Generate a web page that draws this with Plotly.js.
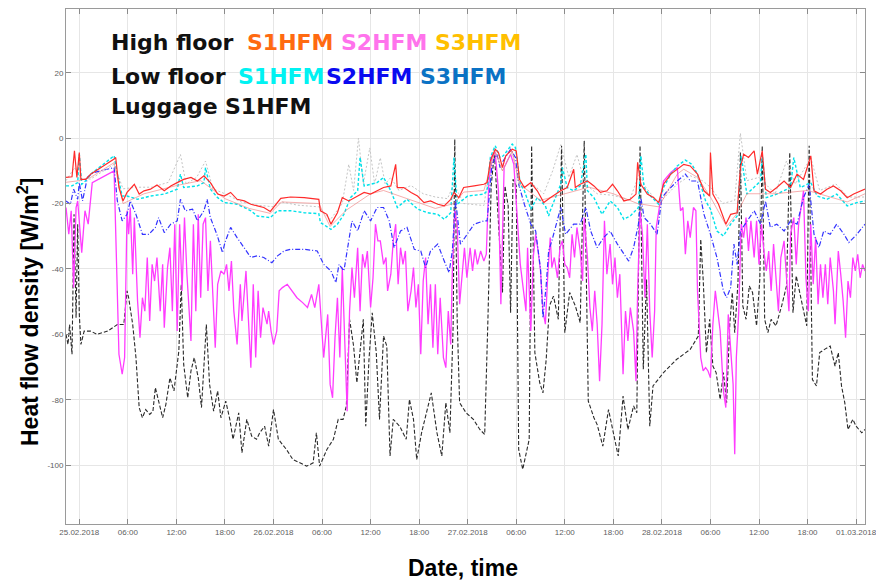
<!DOCTYPE html>
<html>
<head>
<meta charset="utf-8">
<script src="https://cdn.plot.ly/plotly-3.0.1.min.js"></script>
<style>
  html, body { margin: 0; padding: 0; background: #ffffff; }
  #chart { width: 876px; height: 581px; }
</style>
</head>
<body>
<div id="chart"></div>
<script>
// Time of each reading in hours after 25.02.2018 00:00, value in W/m2.

// High floor S1HFM
const hHiS1 = [-1.64,-0.9,-0.6,-0.3,0,0.2,0.8,1.4,4.3,4.5,4.9,5.4,5.9,6.8,7.4,8,8.8,9.6,10.5,11.3,12.1,12.9,13.8,14.6,15.4,16.2,17.1,17.9,
  18.7,19.5,20.4,21.2,22,22.8,23.6,24,24.9,26.1,27.8,29.6,29.8,30.6,31.1,31.9,32.5,33.3,34.4,35.2,36,36.8,37.6,
  38.5,39.1,39.3,40.1,41,41.8,42.6,43.4,44.3,45.1,45.9,46.3,46.9,47.5,48.8,50,50.4,50.8,51.4,51.8,52.3,52.7,53.5,54,54.4,55,55.8,56.6,57.4,
  58.2,59.5,60.3,61.1,61.3,61.9,62.8,63.6,64.4,65.2,65.9,66.5,67.3,68.1,68.8,69,69.4,70.2,71,71.6,72.2,73.1,73.9,74.7,75.5,76.4,77.2,
  77.9,78,78.3,79,79.9,80.5,81.3,81.7,82.1,82.7,83.4,83.8,84.4,84.8,85.4,86.2,87.1,87.9,88.7,89.5,90.4,90.8,91.6,92.4,93.2,94.1,94.9,95.7,97.1];
const vHiS1 = [-12,-11.8,-3.9,-12,-4.4,-12.6,-12.6,-11,-6.4,-5.9,-15.1,-19.2,-16.6,-14.1,-17.1,-16.1,-15.6,-14.3,-16.1,-14.6,-13.6,-12.6,-12,-13.1,-11.5,-13.6,-17.1,-17.7,
  -16.6,-18.7,-19.2,-20.2,-20.7,-21.2,-22.4,-21.2,-18.4,-18,-18.2,-18.7,-22.2,-23.3,-26.3,-22.8,-18.2,-19.2,-17.7,-16.6,-17.1,-16.1,-15.1,
  -14.6,-8,-15.1,-15.1,-16.6,-17.7,-19.7,-19.2,-20.2,-20.7,-18.7,-16.6,-18.2,-15.1,-14.6,-14.1,-13.6,-6.9,-3.4,-4.4,-9,-5.4,-3.4,-3.9,-12.6,-15.1,-13.6,-16.1,-19.7,
  -18.2,-16.1,-15.1,-9.5,-15.1,-14.1,-13.1,-14.6,-16.6,-16.1,-14.1,-16.1,-19.2,-18.7,-17.1,-7.4,-14.1,-17.1,-18.2,-19.7,-14.1,-11,-9.5,-8,-8.5,-11,-16.1,
  -17.7,-4.4,-17.1,-20.2,-26.3,-23.3,-22.8,-9,-4.9,-5.9,-3.9,-11,-3.9,-15.6,-16.6,-15.1,-13.1,-15.1,-11,-12.6,-5.4,-16.1,-17.1,-15.6,-14.6,-16.1,-18.2,-17.1,-15.6];

// High floor S2HFM
const hHiS2 = [-1.64,-1.3,-1,-0.7,-0.4,-0.2,0.3,0.7,1.1,1.6,4.3,4.6,4.9,5.3,5.6,5.9,6.1,6.3,6.6,6.8,
  7.2,7.5,7.8,8.1,8.4,8.7,9,9.3,9.6,10,10.3,10.5,10.9,11.2,11.5,11.8,12.1,12.4,12.7,13,
  13.3,13.8,14.1,14.4,14.7,15,15.3,15.6,15.9,16.2,16.6,16.8,17.1,17.5,17.9,
  18.2,18.5,18.8,19.1,19.5,19.9,20.1,20.6,20.9,21.2,21.5,21.8,22.1,22.4,22.7,23.2,23.4,23.7,24,24.4,
  24.7,25.1,25.7,26.3,26.9,27.6,28.2,28.7,29.1,29.6,29.9,30.2,30.7,31,31.3,31.6,31.9,32.2,32.5,32.8,
  33.1,33.4,33.7,34,34.4,34.7,35,35.3,35.6,36,36.3,36.6,36.9,37.2,37.6,
  37.9,38.1,38.5,38.8,39.1,39.4,39.7,40,40.3,40.6,41,41.3,41.6,41.9,42.2,42.5,42.8,43.1,43.4,43.7,
  44,44.3,44.6,45,45.3,45.6,45.9,46.1,46.4,46.7,47,47.3,47.6,47.9,48.3,48.6,48.9,49.2,49.6,50,
  50.3,50.6,51,51.4,51.8,52.1,52.5,52.9,53.3,53.7,54.1,54.5,54.8,55.2,55.4,55.8,56.1,56.4,56.7,57,57.3,57.6,
  57.9,58.2,58.4,58.7,59.1,59.4,59.7,60,60.3,60.6,60.9,61.2,61.5,61.9,62.2,62.4,62.8,63.1,63.4,63.7,
  64,64.3,64.6,64.9,65.2,65.6,65.9,66.2,66.5,66.8,67.2,67.5,67.8,68.1,68.5,68.8,69,69.3,69.6,69.9,
  70.2,70.5,70.8,71.1,71.3,71.6,71.9,72.2,73.1,73.9,74.3,74.6,74.9,75.2,75.5,75.9,76.2,76.4,76.8,77.1,
  77.4,77.7,78,78.3,78.6,78.9,79.2,79.6,79.9,80.2,80.5,80.8,81,81.2,81.5,81.8,82.1,82.4,82.7,83,
  83.4,83.7,84,84.3,84.6,84.9,85.2,85.5,85.8,86.1,86.4,86.7,87.1,87.4,87.7,87.9,88.3,88.6,88.9,89.2,
  89.5,89.8,90.1,90.4,90.7,91,91.3,91.6,91.9,92.2,92.5,92.8,93.2,93.4,93.8,94.1,94.4,94.7,95,95.3,
  95.6,95.9,96.2,96.5,96.8,97.1];
const vHiS2 = [-21.2,-29.4,-22.2,-45.7,-21.2,-19.2,-35,-22.2,-26.3,-13.6,-10,-36.5,-66.1,-72.2,-67.1,-22.2,-29.4,-21.2,-41.6,-24.3,
  -49.8,-61,-48.8,-52.9,-36.5,-55.9,-38.6,-43.7,-36.5,-52.9,-38.6,-58,-39.6,-33.5,-52.9,-26.3,-59,-26.3,-46.7,-24.3,
  -41.6,-62,-26.3,-52.9,-23.3,-48.8,-26.3,-24.3,-46.7,-31.4,-52.9,-64.1,-44.7,-40.6,-41.6,
  -38.6,-46.7,-37.6,-52.9,-63.1,-44.7,-55.9,-40.6,-56.9,-70.2,-44.7,-67.1,-46.7,-61,-51.8,-56.9,-52.9,-59,-63.1,-59,
  -46.7,-45.7,-44.7,-46.7,-48.8,-50.3,-51.8,-47.8,-51.8,-44.7,-55.9,-67.1,-53.9,-75.3,-79.4,-61,-48.8,-67.1,-39.6,-62,
  -83.5,-52.9,-39.6,-48.8,-33.5,-52.9,-35.5,-39.6,-34.5,-51.8,-42.7,-26.3,-31.4,-31.4,-38.6,
  -36.5,-46.7,-41.6,-31.4,-26.3,-44.7,-33.5,-38.6,-34.5,-52.9,-46.7,-39.6,-51.8,-44.7,-66.1,-43.7,-36.5,-56.9,-44.7,-64.1,
  -44.7,-66.1,-48.8,-67.1,-70.2,-52.9,-63.1,-40.6,-22.2,-26.3,-50.8,-40.6,-33.5,-42.7,-33.5,-40.6,-34,-38.6,-34.5,-37.6,
  -35.5,-14.1,-5.4,-4.4,-16.1,-50.8,-9,-6.9,-4.9,-8,-23.3,-38.6,-44.7,-52.9,-33.5,-59,-36.5,-29.4,-34.5,-40.6,-52.9,-56.9,
  -41.6,-30.4,-39.6,-36.5,-42.7,-33.5,-31.4,-38.6,-39.6,-42.7,-29.4,-36.5,-27.3,-34.5,-43.7,-24.3,-36.5,-51.8,-59,-46.7,
  -56.9,-74.3,-56.9,-25.3,-41.6,-32.4,-44.7,-36.5,-48.8,-41.6,-72.2,-52.9,-62,-51.8,-59,-74.3,-46.7,-22.2,-29.4,-48.8,
  -26.3,-52.9,-67.1,-52.9,-27.3,-22.2,-17.1,-13.1,-10.5,-9,-22.2,-21.2,-35.5,-25.3,-30.4,-21.2,-22.2,-46.7,-67.1,-71.2,
  -70.2,-71.2,-73.3,-56.9,-46.7,-52.9,-59,-77.3,-82.4,-53.9,-65.1,-75.3,-96.7,-67.1,-52.9,-26.3,-30.4,-24.3,-34.5,-25.3,
  -36.5,-25.3,-38.6,-26.3,-34.5,-40.6,-34.5,-46.7,-32.4,-41.6,-52.9,-36.5,-31.4,-42.7,-52.9,-29.4,-24.3,-38.6,-26.3,-21.2,
  -16.1,-42.7,-52.9,-26.3,-44.7,-30.4,-50.8,-38.6,-48.8,-38.6,-50.8,-36.5,-46.7,-56.9,-34.5,-41.6,-49.8,-61,-43.7,-48.8,
  -36.5,-40.6,-35.5,-42.7,-38.6,-40.6];

// High floor S3HFM
const hHiS3 = [-1.64,0,1.4,4.3,5.4,8,12,15,18,21,23.6,25,29.6,31,33,36,37.6,40,44,46.3,
  47.5,50,51.4,52.3,53.5,54.4,57,60,63,66,69,71.6,73.9,74.7,76.4,78,80,81.3,82.5,86,90,94.9,97.1];
const vHiS3 = [-13.5,-13,-12,-7.5,-20,-17,-14.5,-13,-18.5,-21.5,-23,-19.5,-20,-27,-22,-17,-16,-18,-21.5,-20,
  -16.5,-16,-4,-10,-4,-14,-19,-17,-15,-17,-20,-21,-11,-9.5,-12,-18,-27,-23,-17,-17,-16,-19.5,-17];

// Low floor S1HFM
const hLoS1 = [-1.64,-0.9,-0.2,0,0.3,0.6,1.4,4.3,4.7,5.3,5.9,7.2,8.8,10.5,12.1,12.5,12.9,14.6,15.4,15.6,16.2,17.1,17.9,
  19.5,21.2,22,23.6,24.5,26.1,27.8,29.6,29.8,31.1,31.9,32.7,33.5,34.4,34.7,35.2,36.8,37.6,
  38.5,39.3,40.5,41.8,43,44.3,45.1,45.9,46.3,46.7,48,50,50.4,50.8,51.4,52,52.4,53.5,53.9,54.5,55,55.8,56.6,57.6,
  58,58.2,59.5,59.7,60.3,61.1,61.9,62.6,62.8,63.6,64.6,65.6,66.5,67.3,68.1,69.1,69.4,69.8,70.6,71.6,72.2,73.1,73.9,74.9,75.7,76.4,77.4,
  78,78.8,79.6,80.5,81.3,81.8,82.5,83.4,84.2,84.4,84.9,86.2,87.9,88.3,89.1,90.4,91.2,92.4,93.6,94.9,96.1,97.1];
const vLoS1 = [-14.6,-14.6,-13.6,-4.9,-14.1,-13.6,-11,-5.4,-11,-17.7,-17.7,-18.7,-17.7,-17.1,-15.6,-11,-15.1,-14.6,-13.6,-9,-15.6,-18.2,-19.7,
  -20.2,-22.2,-23.8,-24.3,-22.2,-22.2,-22.8,-23.1,-25.8,-27.9,-26.3,-23.3,-18.2,-16.1,-5.9,-14.6,-13.6,-12,
  -16.1,-21.2,-18.7,-21.7,-22.8,-23.3,-24.8,-22.8,-5.9,-20.2,-17.7,-17.1,-16.1,-5.9,-2.3,-5.9,-5.4,-1.8,-2.9,-14.1,-16.1,-21.7,-18.2,-20.7,
  -23.8,-22.2,-14.1,-9,-15.1,-16.1,-14.6,-4.9,-16.1,-18.2,-23.3,-19.2,-21.2,-24.8,-23.8,-21.2,-5.4,-15.1,-17.7,-20.2,-15.1,-11,-8.5,-6.7,-8,-11,-19.2,
  -21.7,-28.4,-29.9,-26.3,-23.8,-5.4,-17.1,-15.1,-13.1,-4.9,-18.2,-17.1,-15.1,-5.9,-15.1,-13.6,-17.7,-18.7,-17.1,-20.7,-19.7,-19.2];

// Low floor S2HFM
const hLoS2 = [-1.64,-1.1,-0.7,-0.2,0,0.4,1,1.8,4.3,4.7,5.3,5.9,6.3,7,7.8,8.6,9.4,9.8,10.5,11.3,12.1,12.5,13.1,14,14.6,15.4,15.8,16.2,17,17.7,
  18,18.7,19.5,20.4,21.2,22,22.8,23.8,24.5,25.3,26.1,27.8,29.4,30.2,31.1,31.7,32.1,32.7,33.3,33.7,34.4,35.2,36,36.8,37.6,
  38.3,38.9,39.7,40.5,41.4,42.2,42.8,43.4,44.3,45.1,45.7,46.1,46.5,47.1,47.9,48.8,50,50.4,51,51.6,52,52.4,53.3,53.9,54.3,55,55.8,56.4,57,57.3,57.7,
  58,58.4,59.5,60.1,61.1,61.9,62.6,63.2,64,64.8,65.6,66.5,67.3,67.9,68.5,69.1,69.4,69.8,70.6,71.4,72,72.7,73.9,74.9,75.5,76.4,77.2,
  78,78.8,79.6,80,80.5,80.9,81.3,81.7,82.5,83.4,84.2,84.8,85.4,86.2,87.1,87.9,88.7,89.5,90.2,90.8,91.4,92,92.8,93.6,94.5,95.1,96.1,97.1];
const vLoS2 = [-19.2,-20.2,-15.6,-18.7,-13.6,-19.2,-12,-10.5,-9,-19.2,-25.3,-23.3,-19.2,-23.3,-29.4,-29.4,-27.3,-24.3,-28.9,-26.3,-25.3,-18.7,-22.2,-21.7,-25.3,-22.2,-18.7,-24.3,-29.4,-35,
  -31.9,-27.3,-30.4,-33.5,-36.5,-36,-36.5,-38.1,-36,-34.5,-34,-34,-34.5,-38.6,-40.6,-44.2,-38.6,-40.6,-31.4,-25.3,-28.4,-22.2,-25.3,-21.2,-21.2,
  -25.3,-33.5,-28.4,-27.3,-34,-34.5,-39.6,-34.5,-32.4,-37.6,-41.1,-34.5,-18.7,-32.4,-29.4,-26.3,-25.3,-25.3,-8,-4.9,-9,-6.9,-3.4,-5.9,-14.1,-20.2,-26.3,-28.4,-40,-55,-45,
  -34.5,-31.4,-21.2,-29.4,-26.3,-26.3,-21.2,-28.4,-33.5,-30.4,-28.4,-32.4,-35.5,-37.6,-33.5,-26.3,-18.2,-24.3,-26.3,-29.4,-18.2,-16.1,-13.1,-11,-13.1,-13.1,-23.3,
  -29.4,-36.5,-46.7,-48.8,-45.7,-32.4,-38.6,-28.4,-25.3,-22.2,-26.3,-19.2,-27.3,-26.3,-28.4,-25.3,-26.3,-18.2,-14.1,-29.4,-33.5,-28.4,-29.4,-26.3,-29.4,-31.9,-29.4,-26.3];

// Low floor S3HFM
const hLoS3 = [-1.64,-0.6,0.3,1.4,4.3,5.4,7,9,11,12.5,13.2,14.5,15.6,16.5,18,20,22,24,25,27,
  29.6,31,32.5,33.3,33.9,34.5,35.1,35.9,36.5,37.2,37.8,38.5,39.5,41,42.5,44,45.5,46.3,47.5,50,
  50.8,51.4,52.3,53.5,54.4,56,57.4,58.5,59.5,60.5,61.5,62.5,64,66,68,69.2,70,71.6,73.9,75.5,
  77,78,79.5,81,81.7,82.5,84,86,87.4,88.5,90.4,91.5,93.5,95,97.1];
const vLoS3 = [-13,-9,-12.5,-12.5,-8,-15.5,-15,-15,-13.5,-5,-14,-12,-7,-15.5,-17,-19.5,-20.5,-21,-19.5,-20.5,
  -21,-25,-20,-8,-16,0,-14,-3,-14,-6,-14,-12,-16,-14.5,-17,-18,-18.5,-14,-20,-20.6,
  -8,-4.5,-10,-4,-15,-14,-17,-10,-2,-12,-5,-14,-17,-17.5,-19,-11,-15,-20,-14,-11.5,
  -13,-15,-20,-19,1.5,-13,-12,-17,-7,-14,-6,-16,-14,-18,-18];

// Luggage S1HFM
const hLugS1 = [-1.64,-1.4,-1.2,-0.9,-0.65,-0.4,-0.2,0,0.2,0.6,1.4,2.2,3.5,4.7,5.5,5.9,6.1,6.6,7,7.4,
  7.8,8.2,8.7,9.1,9.4,9.8,10.3,10.7,11.2,11.7,12.3,12.6,12.9,13.4,13.8,14.2,14.7,15.1,15.4,15.7,
  16.1,16.6,17.1,17.5,18.1,
  18.6,19,19.7,20.1,20.7,21.3,21.9,22.3,22.9,23.4,24,24.6,25.6,26.4,27.3,28.1,28.9,29.3,29.7,30.6,
  31.4,32,32.6,33,33.4,33.9,34.3,34.7,35.1,35.4,35.8,36.2,36.7,37.1,37.6,38,38.4,38.8,39.6,40.4,
  40.8,41.3,41.7,42.3,42.9,43.5,44.2,44.8,45.3,45.8,
  46.2,46.4,46.7,47,47.8,48.7,49.5,50.1,50.5,50.9,51.3,51.9,52.3,52.6,53,53.3,53.6,54,54.3,54.8,
  55.2,55.6,55.9,56.3,56.9,57.3,57.7,58.1,58.6,59.2,59.6,60,60.6,61.3,61.9,62.4,62.9,63.6,64,
  64.7,65.4,66,66.6,67.2,67.8,68.5,68.9,69.3,69.7,70.1,70.5,70.9,72.2,73.8,75.5,76.5,76.8,77.1,77.5,
  77.9,78.3,78.7,79.2,79.6,80,80.4,80.7,81,81.4,81.7,82,82.4,82.8,83.2,83.7,84.1,84.4,84.7,85.1,
  85.5,86.1,86.8,87.4,87.8,88.2,88.6,89.2,89.9,90.2,90.6,91.1,91.5,92.1,92.8,93.4,93.8,94.2,94.6,95,
  95.6,96,96.7,97.1];
const vLugS1 = [-60,-63.1,-57,-66.1,-23.3,-54.9,-26.3,-53.9,-63.1,-59,-59,-60,-59,-57,-57,-46.7,-48.8,-57,-67.1,-82.4,
  -85.5,-83,-84.5,-83.5,-76.3,-80.4,-85.5,-81.4,-73.3,-77.3,-65.1,-44.7,-69.2,-79.4,-71.2,-67.1,-73.3,-82.4,-69.2,-57,
  -75.3,-83.5,-77.3,-85.5,-80.4,
  -86,-92.1,-84,-96.2,-86,-91.1,-92.1,-90.1,-88.1,-94.2,-83,-92.1,-95.2,-98.3,-99.3,-100.3,-99.3,-90.1,-100.3,-95.2,
  -92.1,-86,-86,-81.9,-55.4,-63.6,-74.8,-65.6,-55.4,-88.1,-67.7,-53.4,-65.6,-86,-60.5,-63.6,-97.2,-86,-88.1,-92.1,
  -79.9,-86,-98.3,-90.1,-84,-77.9,-90.1,-97.2,-80.9,-90.1,
  -57.4,-0.3,-55.4,-80.9,-84,-86,-89.1,-90.6,-55.4,-14.6,-4.4,-29.9,-47.2,-14.6,-20.7,-53.4,-12.6,-14.6,-95.2,-101.3,
  -96.2,-92.1,-2.3,-65.6,-74.8,-77.9,-67.7,-51.3,-48.3,-55.4,-2.3,-59.5,-47.2,-51.3,-56.4,-0.8,-80.4,-85.5,-87.6,
  -94.2,-83,-90.1,-97.2,-78.9,-89.1,-81.9,-84,-2.3,-70.7,-43.2,-88.1,-75.8,-71.7,-67.7,-64.6,-60.5,-30.9,-43.2,-65.6,
  -55.4,-69.7,-71.7,-79.9,-71.7,-80.9,-56.4,-47.2,-59.5,-44.2,-4.4,-51.3,-55.4,-45.2,-47.2,-57.4,-43.2,-2.3,-55.4,-59.5,
  -55.4,-57.4,-51.3,-45.2,-4.4,-53.4,-42.1,-49.3,-57.4,-2.3,-73.8,-75.8,-65.6,-64.6,-63.6,-69.7,-65.6,-75.8,-80.9,-89.1,
  -86,-88.1,-90.1,-89.1];

// Axis ticks: every 6 hours, dates at midnight
const tickHours = [0,6,12,18,24,30,36,42,48,54,60,66,72,78,84,90,96];
const tickLabels = ['25.02.2018','06:00','12:00','18:00','26.02.2018','06:00','12:00','18:00',
  '27.02.2018','06:00','12:00','18:00','28.02.2018','06:00','12:00','18:00','01.03.2018'];
const yTicks = [-100,-80,-60,-40,-20,0,20];

function pad(n) { return (n < 10 ? '0' : '') + n; }
function toDate(h) {
  const d = new Date(Date.UTC(2018, 1, 25) + Math.round(h * 3600000));
  return d.getUTCFullYear() + '-' + pad(d.getUTCMonth() + 1) + '-' + pad(d.getUTCDate()) + ' ' +
    pad(d.getUTCHours()) + ':' + pad(d.getUTCMinutes()) + ':' + pad(d.getUTCSeconds());
}

function trace(name, hrs, vals, color, width, dash) {
  return {
    type: 'scatter', mode: 'lines', name: name,
    x: hrs.map(toDate), y: vals,
    line: { color: color, width: width, dash: dash },
    hoverinfo: 'x+y+name'
  };
}

const data = [
  trace('Luggage S1HFM', hLugS1, vLugS1, '#2a2a2a', 1.1, '4px,2px'),
  trace('High floor S2HFM', hHiS2, vHiS2, '#ff3cff', 1.3, 'solid'),
  trace('Low floor S2HFM', hLoS2, vLoS2, '#3333ff', 1.2, '5px,2px,1px,2px'),
  trace('Low floor S3HFM', hLoS3, vLoS3, '#c4c4c4', 1.0, '2px,2px'),
  trace('Low floor S1HFM', hLoS1, vLoS1, '#00e2ea', 1.4, '3px,2px'),
  trace('High floor S3HFM', hHiS3, vHiS3, 'rgba(240,120,120,0.6)', 1.0, 'solid'),
  trace('High floor S1HFM', hHiS1, vHiS1, '#ff2b2b', 1.2, 'solid')
];

// Plot frame in page pixels
const L = 66, R = 865, T = 9, B = 524;
const W = 876, H = 581;
function px(x) { return (x - L) / (R - L); }
function py(y) { return (B - y) / (B - T); }

function label(text, x, y, color) {
  return {
    xref: 'paper', yref: 'paper', x: px(x), y: py(y),
    xanchor: 'left', yanchor: 'middle', showarrow: false,
    text: '<b>' + text + '</b>',
    font: { family: 'DejaVu Sans', size: 22, color: color }
  };
}

const annotations = [
  label('High floor', 109, 42, '#111111'),
  label('S1HFM', 245, 42, '#ff6a10'),
  label('S2HFM', 339, 42, '#ff73ec'),
  label('S3HFM', 433, 42, '#ffbf00'),
  label('Low floor', 109, 77, '#111111'),
  label('S1HFM', 236, 77, '#00f2f2'),
  label('S2HFM', 324, 77, '#0a0af0'),
  label('S3HFM', 418, 77, '#0a72c4'),
  label('Luggage', 109, 107, '#111111'),
  label('S1HFM', 223, 107, '#111111'),
  {
    xref: 'paper', yref: 'paper', x: px(28), y: py(312),
    xanchor: 'center', yanchor: 'middle', showarrow: false, textangle: -90,
    text: '<b>Heat flow density [W/m<sup>2</sup>]</b>',
    font: { family: 'Liberation Sans, Arial', size: 23, color: '#000000' }
  },
  {
    xref: 'paper', yref: 'paper', x: px(463), y: py(568),
    xanchor: 'center', yanchor: 'middle', showarrow: false,
    text: '<b>Date, time</b>',
    font: { family: 'Liberation Sans, Arial', size: 23, color: '#000000' }
  }
];

const axisCommon = {
  showline: true, linecolor: '#9a9a9a', linewidth: 1, mirror: 'ticks',
  ticks: 'inside', ticklen: 5, tickcolor: '#8a8a8a', tickwidth: 1,
  showgrid: true, gridcolor: '#e6e6e6', gridwidth: 1, zeroline: false,
  ticklabeloverflow: 'allow',
  tickfont: { family: 'Liberation Sans, Arial', size: 8, color: '#606060' }
};

const layout = {
  width: W, height: H,
  margin: { l: L, r: W - R, t: T, b: H - B },
  paper_bgcolor: '#ffffff', plot_bgcolor: '#ffffff',
  showlegend: false,
  xaxis: Object.assign({}, axisCommon, {
    type: 'date',
    range: [toDate(-1.644), toDate(97.1)],
    tickmode: 'array',
    tickvals: tickHours.map(toDate),
    ticktext: tickLabels
  }),
  yaxis: Object.assign({}, axisCommon, {
    range: [-118, 39.5],
    tickmode: 'array',
    tickvals: yTicks,
    ticktext: yTicks.map(String)
  }),
  annotations: annotations
};

Plotly.newPlot('chart', data, layout, { staticPlot: true, displayModeBar: false });
</script>
</body>
</html>
